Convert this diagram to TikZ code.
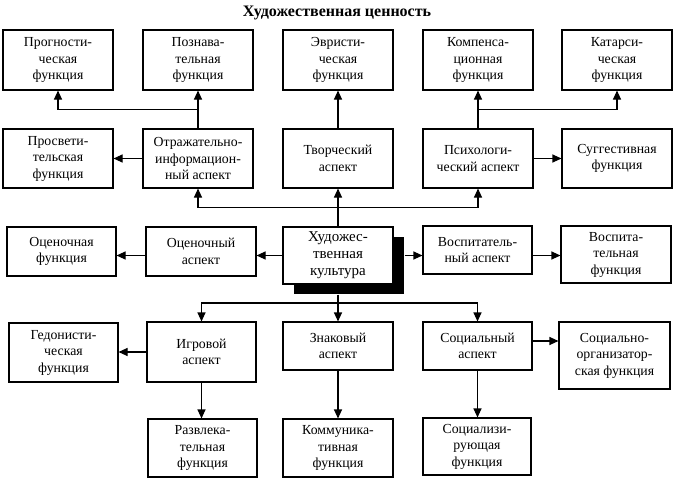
\documentclass[tikz,border=0pt]{standalone}
\usepackage{fontspec}
\setmainfont{Liberation Serif}
\usetikzlibrary{arrows.meta,calc,shadows}
\begin{document}
\begin{tikzpicture}[x=1pt,y=-1pt,
  box/.style={draw, line width=1.1pt, fill=white, align=center, inner sep=0pt,
    minimum width=110pt, font=\fontsize{13.8}{16.5}\selectfont},
  arr/.style={line width=1.1pt, -{Triangle[length=9pt,width=8pt]}},
  ln/.style={line width=1.1pt}]
\useasboundingbox (0,0) rectangle (680,487);
\node[font=\fontsize{16}{18}\selectfont\bfseries] (title) at (337,13) {Художественная ценность};
% row 1
\node[box, minimum height=60pt] (prog) at (58,60) {Прогности-\\ческая\\функция};
\node[box, minimum height=60pt] (pozn) at (198,60) {Познава-\\тельная\\функция};
\node[box, minimum height=60pt] (evr) at (338,60) {Эвристи-\\ческая\\функция};
\node[box, minimum height=60pt] (komp) at (478,60) {Компенса-\\ционная\\функция};
\node[box, minimum height=60pt] (kat) at (617,60) {Катарси-\\ческая\\функция};
% row 2
\node[box, minimum height=59pt] (prosv) at (58,158.5) {Просвети-\\тельская\\функция};
\node[box, minimum height=59pt] (otr) at (198,158.5) {Отражательно-\\информацион-\\ный аспект};
\node[box, minimum height=59pt] (tvor) at (338,158.5) {Творческий\\аспект};
\node[box, minimum height=59pt] (psih) at (478,158.5) {Психологи-\\ческий аспект};
\node[box, minimum height=59pt] (sug) at (617,158.5) {Суггестивная\\функция};
% row 3
\node[box, minimum width=109pt, minimum height=49pt] (ocf) at (61.5,251.5) {Оценочная\\функция};
\node[box, minimum height=49pt] (oca) at (201,251.5) {Оценочный\\аспект};
\node[box, minimum height=57pt, font=\fontsize{15}{17}\selectfont,
  general shadow={fill=black, shadow xshift=11pt, shadow yshift=-10pt}] (cen) at (338,255.5) {Художес-\\твенная\\культура};
\node[box, minimum width=109pt, minimum height=48pt] (vosa) at (477.5,250) {Воспитатель-\\ный аспект};
\node[box, minimum height=57pt] (vosf) at (616,254.5) {Воспита-\\тельная\\функция};
% row 4
\node[box, minimum width=109pt, minimum height=59pt] (ged) at (63.5,352.5) {Гедонисти-\\ческая\\функция};
\node[box, minimum width=109pt, minimum height=60pt] (igr) at (201.5,352) {Игровой\\аспект};
\node[box, minimum height=48pt] (znak) at (338,346) {Знаковый\\аспект};
\node[box, minimum width=109pt, minimum height=48pt] (soca) at (477.5,346) {Социальный\\аспект};
\node[box, minimum width=111pt, minimum height=67pt] (socorg) at (614.5,355.5) {Социально-\\организатор-\\ская функция};
% row 5
\node[box, minimum width=109pt, minimum height=58pt] (razv) at (202.5,448) {Развлека-\\тельная\\функция};
\node[box, minimum height=58pt] (komm) at (338,448) {Коммуника-\\тивная\\функция};
\node[box, minimum width=108pt, minimum height=57pt] (socz) at (477,446.5) {Социализи-\\рующая\\функция};
% junctions
\coordinate (jo) at ($(otr.north)!.5!(pozn.south)$);
\coordinate (jp) at ($(psih.north)!.5!(komp.south)$);
\coordinate (ju) at ($(cen.north)!.5!(tvor.south)$);
\coordinate (jd) at ($(cen.south)!.5!(znak.north)$);
% connectors top
\draw[arr] (otr.north) -- (pozn.south);
\draw[arr] (jo) -| (prog.south);
\draw[arr] (otr.west) -- (prosv.east);
\draw[arr] (tvor.north) -- (evr.south);
\draw[arr] (psih.north) -- (komp.south);
\draw[arr] (jp) -| (kat.south);
\draw[arr] (psih.east) -- (sug.west);
\draw[arr] (cen.north) -- (tvor.south);
\draw[arr] (ju) -| (otr.south);
\draw[arr] (ju) -| (psih.south);
% middle row
\draw[arr] (cen.west) -- (cen.west -| oca.east);
\draw[arr] (oca.west |- cen.west) -- (ocf.east |- cen.west);
\draw[arr] ([xshift=11pt]cen.east) -- (vosa.west |- cen.east);
\draw[arr] (vosa.east |- cen.east) -- (vosf.west |- cen.east);
% bottom
\draw[ln] ([yshift=-10pt]cen.south) -- (jd);
\draw[arr] (jd) -- (znak.north);
\draw[arr] (jd) -| (igr.north);
\draw[arr] (jd) -| (soca.north);
\draw[arr] (igr.west) -- (igr.west -| ged.east);
\draw[arr] (igr.south) -- (igr.south |- razv.north);
\draw[arr] (znak.south) -- (komm.north);
\draw[arr] ([yshift=5pt]soca.east) -- ([yshift=5pt]soca.east -| socorg.west);
\draw[arr] (soca.south) -- (soca.south |- socz.north);
\end{tikzpicture}
\end{document}
